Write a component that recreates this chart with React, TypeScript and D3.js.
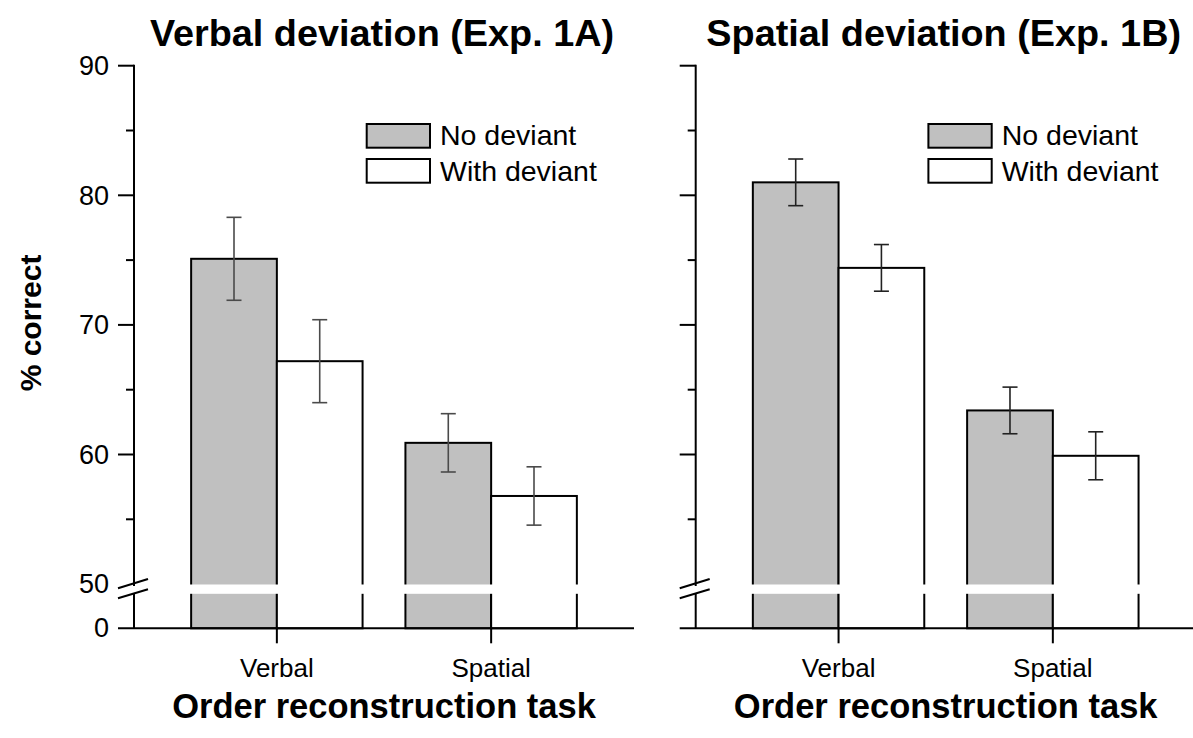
import React from "react";
import * as d3 from "d3";

const categories = ["Verbal", "Spatial"];
const panelTitles = ["Verbal deviation (Exp. 1A)", "Spatial deviation (Exp. 1B)"];
const seriesNames = ["No deviant", "With deviant"];

const exp1A_noDeviant = [75.1, 60.9];
const exp1A_noDeviantErr = [3.2, 2.25];
const exp1A_withDeviant = [67.2, 56.8];
const exp1A_withDeviantErr = [3.2, 2.25];

const exp1B_noDeviant = [81.0, 63.4];
const exp1B_noDeviantErr = [1.8, 1.8];
const exp1B_withDeviant = [74.4, 59.9];
const exp1B_withDeviantErr = [1.8, 1.85];

const majorTicks = [90, 80, 70, 60];
const minorTicks = [85, 75, 65, 55];

const FONT = "'Liberation Sans', Arial, Helvetica, sans-serif";
const GRAY = "#c0c0c0";

const W = 1193;
const H = 738;
const yTop = 65.7;
const y50 = 584.1;
const y0px = 628.3;
const gapTop = 584.5;
const gapBot = 593.8;
const panelWidth = 500;
const barW = 0.4;

const yScale = d3.scaleLinear().domain([50, 90]).range([y50, yTop]);
const xScale = d3.scaleLinear().domain([1 / 3, 8 / 3]).range([0, panelWidth]);

type PanelProps = {
  ox: number;
  title: string;
  noDev: number[];
  noDevErr: number[];
  withDev: number[];
  withDevErr: number[];
  showLabels: boolean;
  errColor: string;
};

function Panel({ ox, title, noDev, noDevErr, withDev, withDevErr, showLabels, errColor }: PanelProps) {
  const X = (v: number) => ox + xScale(v);
  const series = [
    { vals: noDev, errs: noDevErr, fill: GRAY, off: -barW },
    { vals: withDev, errs: withDevErr, fill: "#ffffff", off: 0 },
  ];
  return (
    <g>
      <text x={ox + panelWidth / 2 - 2} y={46} textAnchor="middle" fontFamily={FONT} fontWeight="bold" fontSize={37.8}>
        {title}
      </text>
      {series.map((s, si) =>
        s.vals.map((v, i) => {
          const c = i + 1;
          const x1 = X(c + s.off);
          const x2 = X(c + s.off + barW);
          const yt = yScale(v);
          return (
            <rect key={`b${si}-${i}`} x={x1} y={yt} width={x2 - x1} height={y0px - yt}
              fill={s.fill} stroke="#000" strokeWidth={2} />
          );
        })
      )}
      {series.map((s, si) =>
        s.vals.map((v, i) => {
          const cx = X(i + 1 + s.off + barW / 2);
          const yh = yScale(v + s.errs[i]);
          const yl = yScale(v - s.errs[i]);
          return (
            <g key={`e${si}-${i}`} stroke={errColor} strokeWidth={1.6}>
              <line x1={cx} x2={cx} y1={yh} y2={yl} />
              <line x1={cx - 7.5} x2={cx + 7.5} y1={yh} y2={yh} />
              <line x1={cx - 7.5} x2={cx + 7.5} y1={yl} y2={yl} />
            </g>
          );
        })
      )}
      <rect x={ox + 1.5} y={gapTop} width={W - ox} height={gapBot - gapTop} fill="#fff" />
      <line x1={ox} x2={ox} y1={yTop - 1} y2={586} stroke="#000" strokeWidth={2} />
      <line x1={ox} x2={ox} y1={594} y2={y0px} stroke="#000" strokeWidth={2} />
      <line x1={ox - 16} x2={ox + 14} y1={588.3} y2={579} stroke="#000" strokeWidth={2} />
      <line x1={ox - 16} x2={ox + 14} y1={598.3} y2={589.3} stroke="#000" strokeWidth={2} />
      {majorTicks.map((t) => (
        <line key={`mt${t}`} x1={ox - 16} x2={ox} y1={yScale(t)} y2={yScale(t)} stroke="#000" strokeWidth={2} />
      ))}
      {minorTicks.map((t) => (
        <line key={`nt${t}`} x1={ox - 8} x2={ox} y1={yScale(t)} y2={yScale(t)} stroke="#000" strokeWidth={2} />
      ))}
      {showLabels && (
        <g fontFamily={FONT} fontSize={27} textAnchor="end">
          {majorTicks.map((t) => (
            <text key={`tl${t}`} x={ox - 25} y={yScale(t)} dy="0.35em">{t}</text>
          ))}
          <text x={ox - 25} y={yScale(50) - 1} dy="0.35em">50</text>
          <text x={ox - 25} y={y0px - 1} dy="0.35em">0</text>
        </g>
      )}
      <line x1={ox - 16} x2={ox + panelWidth} y1={y0px} y2={y0px} stroke="#000" strokeWidth={2} />
      {categories.map((c, i) => (
        <g key={c}>
          <line x1={X(i + 1)} x2={X(i + 1)} y1={y0px} y2={y0px + 15} stroke="#000" strokeWidth={2} />
          <text x={X(i + 1)} y={677} textAnchor="middle" fontFamily={FONT} fontSize={26}>{c}</text>
        </g>
      ))}
      <text x={ox + panelWidth / 2} y={718} textAnchor="middle" fontFamily={FONT} fontWeight="bold" fontSize={34.5}>
        Order reconstruction task
      </text>
      {seriesNames.map((n, i) => (
        <g key={n}>
          <rect x={ox + 232.7} y={124 + i * 35} width={63.3} height={23.7}
            fill={i === 0 ? GRAY : "#fff"} stroke="#000" strokeWidth={2} />
          <text x={ox + 306} y={145 + i * 35.5} fontFamily={FONT} fontSize={28.5}>{n}</text>
        </g>
      ))}
    </g>
  );
}

export default function App() {
  return (
    <svg width={W} height={H} style={{ position: "absolute", left: 0, top: 0, background: "#fff" }}>
      <rect x={0} y={0} width={W} height={H} fill="#fff" />
      <text transform={`translate(41,323) rotate(-90)`} textAnchor="middle" fontFamily={FONT}
        fontWeight="bold" fontSize={30}>% correct</text>
      <Panel ox={134} title={panelTitles[0]} noDev={exp1A_noDeviant} noDevErr={exp1A_noDeviantErr}
        withDev={exp1A_withDeviant} withDevErr={exp1A_withDeviantErr} showLabels={true} errColor="#4a4a4a" />
      <Panel ox={695.7} title={panelTitles[1]} noDev={exp1B_noDeviant} noDevErr={exp1B_noDeviantErr}
        withDev={exp1B_withDeviant} withDevErr={exp1B_withDeviantErr} showLabels={false} errColor="#222" />
    </svg>
  );
}
